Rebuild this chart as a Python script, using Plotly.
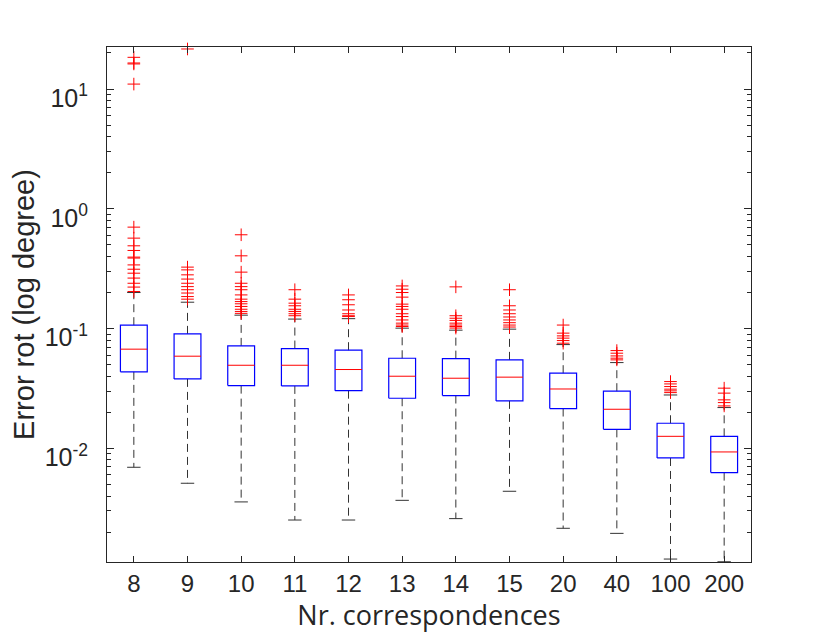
import plotly.graph_objects as go

categories = ["8", "9", "10", "11", "12", "13", "14", "15", "20", "40", "100", "200"]

q1 = [0.0435, 0.0380, 0.0334, 0.0332, 0.0303, 0.0262, 0.0276, 0.0249, 0.0215, 0.0144, 0.00831, 0.00627]
median = [0.0673, 0.0588, 0.0494, 0.0494, 0.0455, 0.0400, 0.0385, 0.0393, 0.0313, 0.0212, 0.0126, 0.00933]
q3 = [0.1067, 0.0903, 0.0717, 0.0681, 0.0660, 0.0565, 0.0561, 0.0548, 0.0424, 0.0300, 0.0162, 0.0126]
lower_whisker = [0.00695, 0.00511, 0.00357, 0.00252, 0.00252, 0.00368, 0.00259, 0.00438, 0.00215, 0.00195, 0.00119, 0.00113]
upper_whisker = [0.200, 0.166, 0.1294, 0.120, 0.121, 0.1008, 0.0970, 0.0989, 0.0735, 0.0520, 0.0279, 0.0219]

outliers = [
    [18.4, 16.5, 16.2, 11.0, 0.703, 0.569, 0.491, 0.449, 0.395, 0.388, 0.340, 0.313, 0.290, 0.264, 0.239, 0.222, 0.204],
    [21.6, 0.326, 0.309, 0.281, 0.259, 0.239, 0.224, 0.211, 0.198, 0.185, 0.176],
    [0.607, 0.405, 0.296, 0.239, 0.224, 0.211, 0.191, 0.176, 0.168, 0.161, 0.153, 0.145, 0.139, 0.134],
    [0.211, 0.176, 0.163, 0.155, 0.145, 0.139, 0.133, 0.128],
    [0.191, 0.174, 0.158, 0.143, 0.133, 0.128, 0.126],
    [0.227, 0.213, 0.200, 0.183, 0.160, 0.153, 0.145, 0.133, 0.126, 0.118, 0.111, 0.107, 0.104],
    [0.223, 0.128, 0.122, 0.117, 0.111, 0.107, 0.104, 0.101],
    [0.211, 0.155, 0.143, 0.133, 0.125, 0.118, 0.112, 0.107, 0.103],
    [0.107, 0.0916, 0.0869, 0.0832, 0.0794, 0.0755],
    [0.0655, 0.0623, 0.0591, 0.0566, 0.0548],
    [0.0361, 0.0345, 0.0328, 0.0312, 0.0302, 0.0292],
    [0.0318, 0.0289, 0.0254, 0.0241, 0.0226],
]

y_ticks = [0.01, 0.1, 1, 10]
y_tick_text = ["10<sup>-2</sup>", "10<sup>-1</sup>", "10<sup>0</sup>", "10<sup>1</sup>"]
y_minor = [m * 10.0 ** e for e in range(-3, 2) for m in range(2, 10)]

HALF_BOX = 0.25
HALF_CAP = 0.125

bx, by, mx, my, wx, wy, cx, cy, ox, oy = [], [], [], [], [], [], [], [], [], []
for i in range(len(categories)):
    bx += [i - HALF_BOX, i + HALF_BOX, i + HALF_BOX, i - HALF_BOX, i - HALF_BOX, None]
    by += [q1[i], q1[i], q3[i], q3[i], q1[i], None]
    mx += [i - HALF_BOX, i + HALF_BOX, None]
    my += [median[i], median[i], None]
    wx += [i, i, None, i, i, None]
    wy += [q3[i], upper_whisker[i], None, q1[i], lower_whisker[i], None]
    cx += [i - HALF_CAP, i + HALF_CAP, None, i - HALF_CAP, i + HALF_CAP, None]
    cy += [upper_whisker[i], upper_whisker[i], None, lower_whisker[i], lower_whisker[i], None]
    ox += [i] * len(outliers[i])
    oy += outliers[i]

fig = go.Figure()
fig.add_trace(go.Scatter(x=wx, y=wy, mode="lines",
                         line=dict(color="#333333", width=1, dash="8px,5px"), hoverinfo="skip"))
fig.add_trace(go.Scatter(x=cx, y=cy, mode="lines",
                         line=dict(color="#333333", width=1), hoverinfo="skip"))
fig.add_trace(go.Scatter(x=bx, y=by, mode="lines",
                         line=dict(color="#0000ff", width=1.2), hoverinfo="skip"))
fig.add_trace(go.Scatter(x=mx, y=my, mode="lines",
                         line=dict(color="#ff0000", width=1), hoverinfo="skip"))
fig.add_trace(go.Scatter(x=ox, y=oy, mode="markers",
                         marker=dict(symbol="cross-thin", size=9,
                                     line=dict(color="#ff0000", width=1), color="#ff0000"),
                         cliponaxis=False, hoverinfo="skip"))

axis_color = "#262626"
fig.update_layout(
    width=822, height=625,
    margin=dict(l=99, r=79, t=39, b=71),
    paper_bgcolor="white", plot_bgcolor="white",
    showlegend=False,
    font=dict(family="Liberation Sans, Arial, sans-serif", color="#262626"),
    xaxis=dict(
        range=[-0.5, len(categories) - 0.5],
        tickmode="array", tickvals=list(range(len(categories))), ticktext=categories,
        ticks="inside", ticklen=6, tickcolor=axis_color, tickwidth=1,
        showline=True, linecolor=axis_color, linewidth=1, mirror="ticks",
        showgrid=False, zeroline=False,
        tickfont=dict(family="Liberation Sans, Arial", size=24, color="#262626"),
        title=dict(text="Nr. correspondences", standoff=2,
                   font=dict(family="Open Sans, Noto Sans, sans-serif", size=27, color="#262626")),
    ),
    yaxis=dict(
        type="log",
        range=[-2.949, 1.351],
        tickmode="array", tickvals=y_ticks, ticktext=y_tick_text,
        ticks="inside", ticklen=7, tickcolor=axis_color, tickwidth=1,
        ticklabelstandoff=13, ticklabelshift=9,
        minor=dict(tickmode="array", tickvals=y_minor, ticks="inside", ticklen=4,
                   tickcolor=axis_color, showgrid=False),
        showline=True, linecolor=axis_color, linewidth=1, mirror="ticks",
        showgrid=False, zeroline=False,
        tickfont=dict(family="Liberation Sans, Arial", size=25, color="#262626"),
        title=dict(text="Error rot (log degree)", standoff=2,
                   font=dict(family="Liberation Sans, Arial", size=29, color="#262626")),
    ),
)

fig.write_html("out.html")
